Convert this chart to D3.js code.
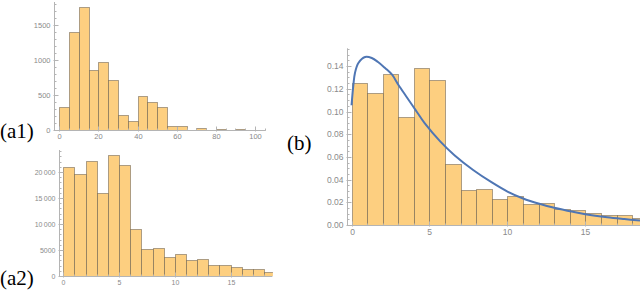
<!DOCTYPE html>
<meta charset="utf-8">
<style>
  body { margin: 0; background: #fff; }
  svg { display: block; }
  .tick-label { font: 8px "Liberation Sans", sans-serif; fill: #8a8a8a; }
  .panel-label { font: 21px "Liberation Serif", serif; fill: #000; }
  .axis-line { stroke: #b4b4b4; stroke-width: 1; fill: none; }
  .bar { fill: #fdcf80; stroke: #5c5244; stroke-opacity: 0.5; stroke-width: 1; }
  .fit { fill: none; stroke: #4f76b4; stroke-width: 2; }
</style>
<body>
<script src="https://d3js.org/d3.v7.min.js"></script>
<script>
// (a1) counts, bins of width 5 from 0 to 105
var a1Bins = [0, 5, 10, 15, 20, 25, 30, 35, 40, 45, 50, 55, 60, 65, 70, 75, 80, 85, 90, 95, 100];
var a1Counts = [324, 1400, 1752, 848, 962, 714, 210, 133, 490, 405, 324, 57, 57, 5, 24, 3, 19, 3, 10, 5, 3];
var a1XTicks = [0, 20, 40, 60, 80, 100];
var a1YTicks = [0, 500, 1000, 1500];

// (a2) counts, bins of width 1
var a2Bins = [0, 1, 2, 3, 4, 5, 6, 7, 8, 9, 10, 11, 12, 13, 14, 15, 16, 17, 18];
var a2Counts = [20900, 19550, 22180, 15900, 23200, 21400, 8970, 5130, 5320, 3720, 4170, 3010, 3270, 2180, 2050, 1730, 1410, 1350, 830];
var a2XTicks = [0, 5, 10, 15];
var a2YTicks = [0, 5000, 10000, 15000, 20000];

// (b) density, bins of width 1
var bBins = [0, 1, 2, 3, 4, 5, 6, 7, 8, 9, 10, 11, 12, 13, 14, 15, 16, 17, 18];
var bDensity = [0.1248, 0.1166, 0.1327, 0.0949, 0.1383, 0.1278, 0.0537, 0.0308, 0.032, 0.0226, 0.0256, 0.0188, 0.0197, 0.0138, 0.0129, 0.0109, 0.0085, 0.0085, 0.0059];
var bXTicks = [0, 5, 10, 15];
var bYTicks = [0, 0.02, 0.04, 0.06, 0.08, 0.10, 0.12, 0.14];

// fitted curve
var fitX = [0, 0.12, 0.22, 0.44, 0.87, 1.3, 1.7, 2.15, 2.6, 3.0, 3.5, 4.1, 4.7, 5.7, 6.6, 7.8, 9, 10, 11, 12.1, 13, 14.2, 15, 16.4, 17.5, 18.5];
var fitY = [0.1055, 0.1236, 0.134, 0.1427, 0.148, 0.1471, 0.1436, 0.1383, 0.1324, 0.1236, 0.1135, 0.1015, 0.0895, 0.0735, 0.0615, 0.0485, 0.0375, 0.0295, 0.0234, 0.0185, 0.0152, 0.0116, 0.0095, 0.0068, 0.0052, 0.0039];

var svg = d3.select("body").append("svg")
    .attr("width", 640)
    .attr("height", 293);

var defs = svg.append("defs");

function drawPanel(p) {
  var x = d3.scaleLinear().domain(p.xDomain).range(p.xRange);
  var y = d3.scaleLinear().domain(p.yDomain).range(p.yRange);
  var g = svg.append("g");

  // clip to the plot range
  defs.append("clipPath").attr("id", "clip-" + p.id)
    .append("rect")
    .attr("x", p.xRange[0]).attr("y", p.yRange[1] - 10)
    .attr("width", p.xRange[1] - p.xRange[0] + 0.5)
    .attr("height", p.yRange[0] - p.yRange[1] + 10);

  var plot = g.append("g").attr("clip-path", "url(#clip-" + p.id + ")");

  plot.selectAll(".bar")
    .data(p.counts)
    .enter().append("rect")
    .attr("class", "bar")
    .attr("x", function(d, i) { return Math.round(x(p.bins[i])) + 0.5; })
    .attr("width", function(d, i) { return Math.round(x(p.bins[i] + p.binWidth)) - Math.round(x(p.bins[i])); })
    .attr("y", function(d) { return Math.round(y(d)) + 0.5; })
    .attr("height", function(d) { return Math.round(y(0)) - Math.round(y(d)); });

  if (p.fit) {
    var line = d3.line()
      .x(function(d, i) { return x(p.fit[0][i]); })
      .y(function(d) { return y(d); })
      .curve(d3.curveCatmullRom.alpha(0.5));
    plot.append("path").attr("class", "fit").attr("d", line(p.fit[1]));
  }

  // axes
  var y0 = Math.round(y(0)) + 0.5;
  var ax = Math.round(p.xRange[0]) + 0.5;
  g.append("line").attr("class", "axis-line")
    .attr("x1", ax).attr("x2", p.xRange[1]).attr("y1", y0).attr("y2", y0);
  g.append("line").attr("class", "axis-line")
    .attr("x1", ax).attr("x2", ax).attr("y1", y0).attr("y2", p.yRange[1]);

  // minor ticks
  y.ticks(p.yMinor).forEach(function(v) {
    var yy = Math.round(y(v)) + 0.5;
    g.append("line").attr("class", "axis-line")
      .attr("x1", ax).attr("x2", ax + 2).attr("y1", yy).attr("y2", yy);
  });
  d3.range(0, p.xDomain[1], p.xMinorStep).forEach(function(v) {
    var xx = Math.round(x(v)) + 0.5;
    g.append("line").attr("class", "axis-line")
      .attr("x1", xx).attr("x2", xx).attr("y1", y0).attr("y2", y0 - 2);
  });

  // major ticks and labels
  p.yTicks.forEach(function(v) {
    var yy = Math.round(y(v)) + 0.5;
    g.append("line").attr("class", "axis-line")
      .attr("x1", ax - 1).attr("x2", ax + 4).attr("y1", yy).attr("y2", yy);
    g.append("text").attr("class", "tick-label")
      .style("font-size", p.fontSize + "px")
      .attr("x", ax - 4).attr("y", yy).attr("dy", "0.35em")
      .attr("text-anchor", "end")
      .text(p.yFormat(v));
  });
  p.xTicks.forEach(function(v) {
    var xx = Math.round(x(v)) + 0.5;
    g.append("line").attr("class", "axis-line")
      .attr("x1", xx).attr("x2", xx).attr("y1", y0 + 1).attr("y2", y0 - 4);
    g.append("text").attr("class", "tick-label")
      .style("font-size", p.fontSize + "px")
      .attr("x", xx).attr("y", y0 + p.fontSize + 1)
      .attr("text-anchor", "middle")
      .text(v);
  });

  g.append("text").attr("class", "panel-label")
    .attr("x", p.label[1]).attr("y", p.label[2])
    .text(p.label[0]);
}

var thin = function(v) {
  return v >= 10000 ? d3.format(",")(v).replace(",", "\u2009") : String(v);
};

drawPanel({
  id: "a1", bins: a1Bins, counts: a1Counts, binWidth: 5,
  xDomain: [-2.7, 105.5], xRange: [54, 265.8],
  yDomain: [0, 1823], yRange: [130, 2],
  xTicks: a1XTicks, yTicks: a1YTicks, yMinor: 18, xMinorStep: 5,
  yFormat: String, fontSize: 7.5,
  label: ["(a1)", 0, 138]
});

drawPanel({
  id: "a2", bins: a2Bins, counts: a2Counts, binWidth: 1,
  xDomain: [-0.36, 18.75], xRange: [59.3, 272.4],
  yDomain: [0, 24230], yRange: [276, 150],
  xTicks: a2XTicks, yTicks: a2YTicks, yMinor: 24, xMinorStep: 1,
  yFormat: thin, fontSize: 7,
  label: ["(a2)", 0, 285]
});

drawPanel({
  id: "b", bins: bBins, counts: bDensity, binWidth: 1,
  xDomain: [-0.31, 18.5], xRange: [346.7, 640],
  yDomain: [0, 0.1557], yRange: [225, 48.3],
  xTicks: bXTicks, yTicks: bYTicks, yMinor: 30, xMinorStep: 1,
  yFormat: d3.format(".2f"), fontSize: 8.5,
  label: ["(b)", 287, 150],
  fit: [fitX, fitY]
});
</script>
</body>
